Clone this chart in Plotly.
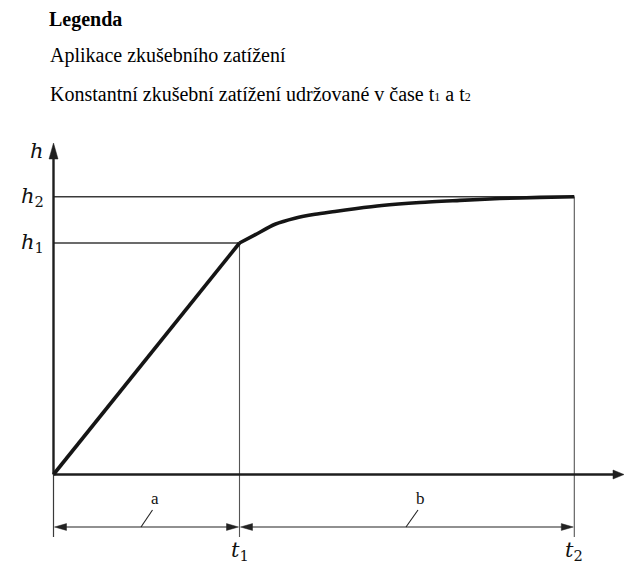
import plotly.graph_objects as go

# ---------------- data ----------------
ramp_t = [0, 10]
ramp_h = [0, 10]
curve_t = [10, 10.83, 11.91, 12.98, 14.06, 15.13, 16.21, 17.65, 19.7, 21.85, 24.0, 26.15, 28]
curve_h = [10, 10.35, 10.81, 11.07, 11.24, 11.36, 11.48, 11.62, 11.75, 11.84, 11.92, 11.97, 12.0]
t1, t2 = 10, 28
h1, h2 = 10, 12
legend_title = "Legenda"
legend_lines = [
    "Aplikace zkušebního zatížení",
    "Konstantní zkušební zatížení udržované v čase t<span style='font-size:12px'>1</span> a t<span style='font-size:12px'>2</span>",
]
h_labels = ["<i>h</i>", "<i>h</i><sub>2</sub>", "<i>h</i><sub>1</sub>"]
t_labels = ["<i>t</i><sub>1</sub>", "<i>t</i><sub>2</sub>"]
dim_labels = ["a", "b"]

# ---------------- geometry ----------------
W, H = 625, 566
PXX, PXY = 18.6, 23.15          # pixels per data unit
X0PX, Y0PX = 53.5, 474.5        # pixel position of origin
xmin = -X0PX / PXX
xmax = xmin + W / PXX
ymax = Y0PX / PXY
ymin = ymax - H / PXY

def dx(px):
    return px / PXX

def dy(px):
    return px / PXY

h_axis_top = dy(Y0PX - 143)
t_axis_end = dx(624 - X0PX)
dim_h = -dy(527 - Y0PX)
ext_h = -dy(537 - Y0PX)

AX = "#1e1e1e"
THIN = "#3a3a3a"

fig = go.Figure()

def line(xs, ys, width, color, shape="linear"):
    fig.add_trace(go.Scatter(x=xs, y=ys, mode="lines",
                             line=dict(width=width, color=color, shape=shape, smoothing=0.8),
                             hoverinfo="skip", showlegend=False))

def tri(tip_x, tip_y, direction, length_px, half_px, color):
    if direction == "up":
        xs = [tip_x, tip_x - dx(half_px), tip_x + dx(half_px), tip_x]
        ys = [tip_y, tip_y - dy(length_px), tip_y - dy(length_px), tip_y]
    elif direction == "right":
        xs = [tip_x, tip_x - dx(length_px), tip_x - dx(length_px), tip_x]
        ys = [tip_y, tip_y + dy(half_px), tip_y - dy(half_px), tip_y]
    else:  # left
        xs = [tip_x, tip_x + dx(length_px), tip_x + dx(length_px), tip_x]
        ys = [tip_y, tip_y + dy(half_px), tip_y - dy(half_px), tip_y]
    fig.add_trace(go.Scatter(x=xs, y=ys, mode="lines", fill="toself",
                             fillcolor=color, line=dict(width=0.5, color=color),
                             hoverinfo="skip", showlegend=False))

# thin reference lines
line([0, t2], [h2, h2], 1.4, THIN)
line([0, t1], [h1, h1], 1.4, THIN)
line([t1, t1], [h1, ext_h], 1.1, "#555555")
line([t2, t2], [h2, ext_h], 1.1, "#555555")
line([0, 0], [0, ext_h], 1.2, THIN)

# axes
line([0, 0], [0, h_axis_top - dy(10)], 2.4, AX)
tri(0, h_axis_top, "up", 16, 4.5, AX)
line([0, t_axis_end - dx(8)], [0, 0], 2.4, AX)
tri(t_axis_end, 0, "right", 11, 4.5, AX)

# curve
line(ramp_t, ramp_h, 3.6, "#151515")
line(curve_t, curve_h, 3.6, "#151515", shape="spline")

# dimension lines
for a, b in [(0, t1), (t1, t2)]:
    line([a + dx(6), b - dx(6)], [dim_h, dim_h], 1.2, "#222222")
    tri(a + dx(1), dim_h, "left", 12, 3.4, "#222222")
    tri(b - dx(1), dim_h, "right", 12, 3.4, "#222222")

# leader slashes
line([dx(141 - X0PX), dx(152.5 - X0PX)], [dim_h, -dy(510 - Y0PX)], 1.1, "#222222")
line([dx(406 - X0PX), dx(418 - X0PX)], [dim_h, -dy(510 - Y0PX)], 1.1, "#222222")

ann = []
serif = "Liberation Serif, Times New Roman, serif"
mathf = "DejaVu Serif"

# legend text
ann.append(dict(xref="paper", yref="paper", x=47 / W, y=1 - 19.5 / H, xanchor="left", yanchor="middle",
                text="<b>" + legend_title + "</b>", showarrow=False,
                font=dict(family=serif, size=20, color="#000")))
for txt, py in zip(legend_lines, [55, 94]):
    ann.append(dict(xref="paper", yref="paper", x=48 / W, y=1 - py / H, xanchor="left", yanchor="middle",
                    text=txt, showarrow=False, font=dict(family=serif, size=20, color="#000")))

# h labels
for lab, hv in zip(h_labels, [dy(Y0PX - 151), h2, h1]):
    ann.append(dict(x=-dx(8), y=hv, xanchor="right", yanchor="middle", text=lab, showarrow=False,
                    font=dict(family=mathf, size=21, color="#111")))
# t labels
for lab, tv in zip(t_labels, [t1, t2]):
    ann.append(dict(x=tv, y=-dy(551 - Y0PX), xanchor="center", yanchor="middle", text=lab, showarrow=False,
                    font=dict(family=mathf, size=21, color="#111")))
# partial t at right edge
ann.append(dict(x=dx(632 - X0PX), y=-dy(500 - Y0PX), xanchor="center", yanchor="middle", text="<i>t</i>",
                showarrow=False, font=dict(family=mathf, size=21, color="#aaa")))
# a, b
for lab, px in zip(dim_labels, [155, 420]):
    ann.append(dict(x=dx(px - X0PX), y=-dy(498 - Y0PX), xanchor="center", yanchor="middle", text=lab,
                    showarrow=False, font=dict(family=serif, size=17, color="#111")))

fig.update_layout(
    width=W, height=H, autosize=False,
    margin=dict(l=0, r=0, t=0, b=0),
    paper_bgcolor="white", plot_bgcolor="white",
    xaxis=dict(range=[xmin, xmax], visible=False, fixedrange=True),
    yaxis=dict(range=[ymin, ymax], visible=False, fixedrange=True),
    annotations=ann,
    showlegend=False,
)

fig.write_html("out.html", post_script="document.body.style.margin='0';",
               config={"displayModeBar": False})
